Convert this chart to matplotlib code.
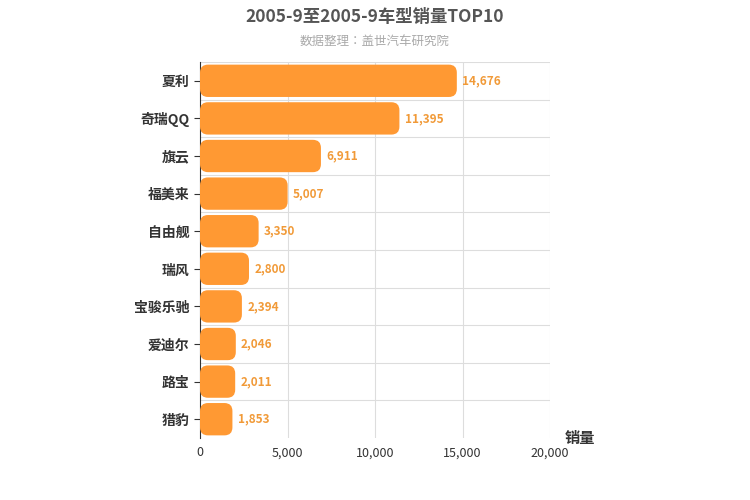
import matplotlib.pyplot as plt
from matplotlib import font_manager
from matplotlib.patches import FancyBboxPatch

# find an installed CJK font
cjk = None
for f in font_manager.findSystemFonts():
    if 'CJK' in f or 'cjk' in f.lower():
        cjk = f
        if 'SC' in f or 'sc' in f.lower():
            break
if cjk:
    font_manager.fontManager.addfont(cjk)
    name = font_manager.FontProperties(fname=cjk).get_name()
    plt.rcParams['font.family'] = 'sans-serif'
    plt.rcParams['font.sans-serif'] = [name, 'DejaVu Sans']

models = ['夏利', '奇瑞QQ', '旗云', '福美来', '自由舰', '瑞风', '宝骏乐驰', '爱迪尔', '路宝', '猎豹']
sales = [14676, 11395, 6911, 5007, 3350, 2800, 2394, 2046, 2011, 1853]
xticks = [0, 5000, 10000, 15000, 20000]

fig = plt.figure(figsize=(7.5, 5), dpi=100)
ax = fig.add_axes([200 / 750, 62 / 500, 350 / 750, 376 / 500])

n = len(models)
ys = list(range(n))
bars = ax.barh(ys, sales, height=0.86, color='none')
ax.set_xlim(0, 20000)
ax.set_ylim(n - 0.5, -0.5)

# rounded bars built from the bar patches
xpp = 20000 / 350
ypp = n / 376
for b in bars:
    x, y, w, h = b.get_x(), b.get_y(), b.get_width(), b.get_height()
    p = FancyBboxPatch((x, y), w, h, boxstyle='round,pad=0,rounding_size=%f' % (8 * xpp),
                       mutation_aspect=ypp / xpp, fc='#FF9933', ec='none', zorder=3)
    ax.add_patch(p)
    ax.text(w + 300, y + h / 2, format(w, ','), va='center', ha='left',
            color='#F19A38', fontsize=8.5, fontweight='bold', zorder=4)

ax.set_yticks(ys)
ax.set_yticklabels(models, fontsize=10, color='#333333', fontweight='bold')
ax.set_xticks(xticks)
ax.set_xticklabels([format(v, ',') for v in xticks], fontsize=9, color='#333333')
for v in xticks[1:]:
    ax.axvline(v, color='#dddddd', lw=0.8, zorder=0)
for k in range(n):
    ax.axhline(k - 0.5, color='#dddddd', lw=0.8, zorder=0)
for s in ['top', 'right', 'bottom']:
    ax.spines[s].set_visible(False)
ax.spines['left'].set_color('#333333')
ax.tick_params(axis='x', length=0, pad=6)
ax.tick_params(axis='y', length=4, color='#333333')

fig.text(0.5, 0.965, '2005-9至2005-9车型销量TOP10', ha='center', va='center',
         fontsize=12.5, fontweight='bold', color='#555555')
fig.text(0.5, 0.918, '数据整理：盖世汽车研究院', ha='center', va='center',
         fontsize=9, color='#aaaaaa')
fig.text(580 / 750, 1 - 438 / 500, '销量', ha='center', va='center',
         fontsize=11, fontweight='bold', color='#333333')

fig.savefig('out.png', dpi=100)
